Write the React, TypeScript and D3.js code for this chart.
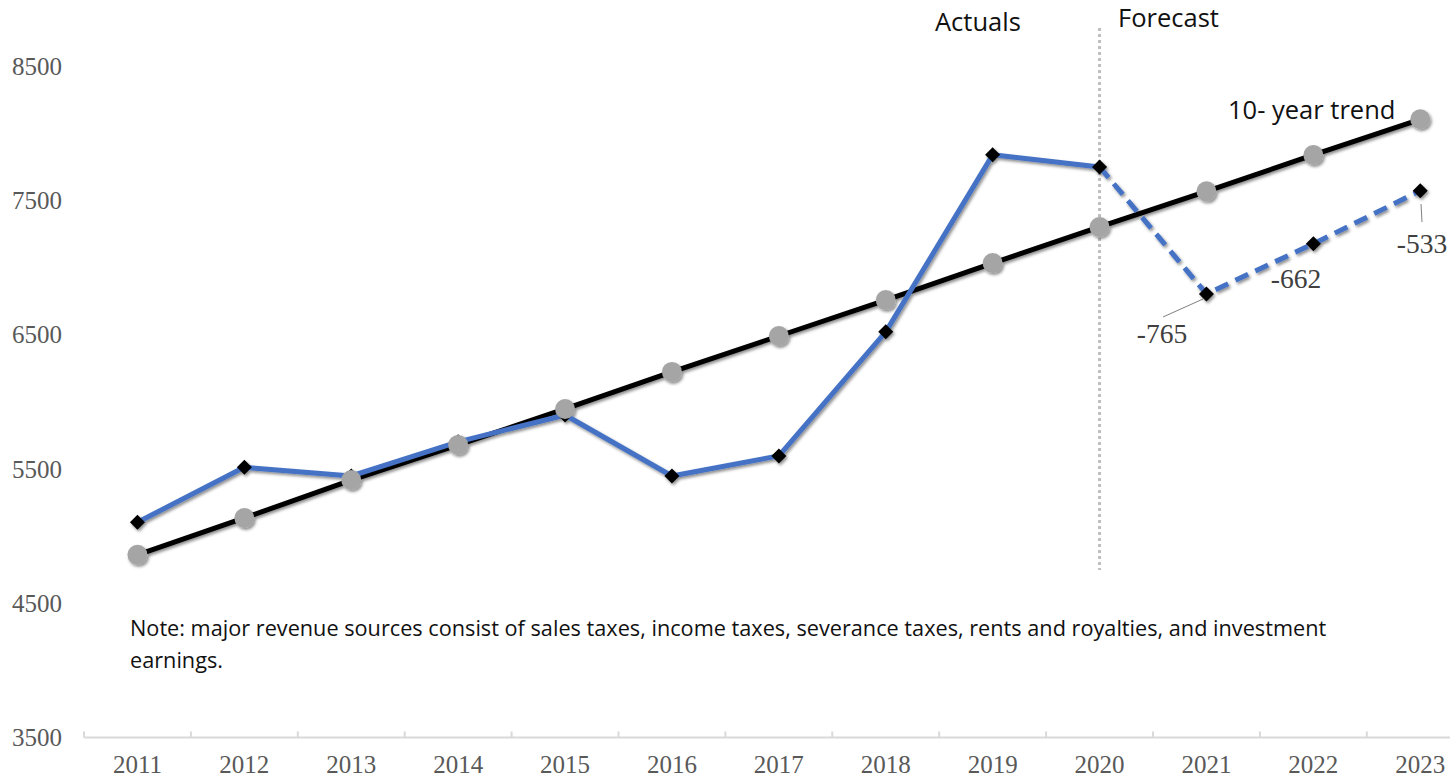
import React from "react";
import * as d3 from "d3";

const years = ["2011","2012","2013","2014","2015","2016","2017","2018","2019","2020","2021","2022","2023"];
const actuals = [5105, 5515, 5450, 5705, 5905, 5450, 5600, 6525, 7845, 7755];
const forecast = [7755, 6808, 7182, 7577]; // 2020..2023
const forecastYears = ["2020","2021","2022","2023"];
const trend = [4862, 5137, 5420, 5682, 5950, 6226, 6494, 6762, 7038, 7307, 7573, 7844, 8110];
const yTicks = [3500, 4500, 5500, 6500, 7500, 8500];
const gapLabels = [
  { year: "2021", text: "-765" },
  { year: "2022", text: "-662" },
  { year: "2023", text: "-533" },
];

const W = 1450, H = 778;
const serif = "'Liberation Serif', 'DejaVu Serif', serif";
const sans = "'Open Sans', 'Noto Sans', sans-serif";

export default function App() {
  const x = d3.scaleBand<string>().domain(years).range([84, 84 + 106.9 * 13]).padding(0);
  const cx = (yr: string) => (x(yr) as number) + x.bandwidth() / 2;
  const y = d3.scaleLinear().domain([3500, 8500]).range([737.5, 67]);

  const line = d3.line<[string, number]>().x(d => cx(d[0])).y(d => y(d[1]));
  const actualPts: [string, number][] = actuals.map((v, i) => [years[i], v]);
  const forecastPts: [string, number][] = forecast.map((v, i) => [forecastYears[i], v]);
  const trendPts: [string, number][] = trend.map((v, i) => [years[i], v]);
  const diamonds = [...actualPts, ...forecastPts.slice(1)];

  const diamond = (px: number, py: number, r: number) =>
    `M${px},${py - r}L${px + r},${py}L${px},${py + r}L${px - r},${py}Z`;

  const axisY = y(3500);
  const vx = cx("2020");

  return (
    <svg width={W} height={H} style={{ position: "absolute", left: 0, top: 0, background: "#fff" }}>
      <defs>
        <filter id="sh" x="-50%" y="-50%" width="200%" height="200%">
          <feDropShadow dx="1.5" dy="2" stdDeviation="1.5" floodColor="#000" floodOpacity="0.45" />
        </filter>
      </defs>
      {/* y labels */}
      {yTicks.map(t => (
        <text key={t} x={12} y={y(t)} dy="0.33em" fontFamily={serif} fontSize={25} fill="#595959">{t}</text>
      ))}
      {/* x axis */}
      <line x1={84} x2={84 + 106.9 * 13} y1={axisY} y2={axisY} stroke="#D9D9D9" strokeWidth={2} />
      {years.map(yr => (
        <line key={"t" + yr} x1={x(yr)} x2={x(yr)} y1={axisY} y2={axisY - 6} stroke="#D9D9D9" strokeWidth={2} />
      ))}
      {years.map(yr => (
        <text key={"l" + yr} x={cx(yr)} y={773} textAnchor="middle" fontFamily={serif} fontSize={25} fill="#595959">{yr}</text>
      ))}
      {/* vertical separator */}
      <line x1={vx} x2={vx} y1={28} y2={570} stroke="#BFBFBF" strokeWidth={3} strokeDasharray="3,3" />
      <text x={935} y={31} fontFamily={sans} fontSize={25.5} fill="#111">Actuals</text>
      <text x={1118} y={27} fontFamily={sans} fontSize={25.5} fill="#111">Forecast</text>
      <text x={1228} y={119} fontFamily={sans} fontSize={25.5} fill="#111">10- year trend</text>
      {/* note */}
      <text x={130} y={636} fontFamily={sans} fontSize={21.7} fill="#111">Note: major revenue sources consist of sales taxes, income taxes, severance taxes, rents and royalties, and investment</text>
      <text x={130} y={668} fontFamily={sans} fontSize={21.7} fill="#111">earnings.</text>
      {/* lines and markers */}
      <g filter="url(#sh)">
        <path d={line(trendPts) || ""} fill="none" stroke="#000" strokeWidth={5} />
        <path d={line(actualPts) || ""} fill="none" stroke="#4472C4" strokeWidth={5} strokeLinejoin="round" />
        <path d={line(forecastPts) || ""} fill="none" stroke="#4472C4" strokeWidth={5} strokeDasharray="14,8" />
        {diamonds.map(d => (
          <path key={"d" + d[0]} d={diamond(cx(d[0]), y(d[1]), 7.5)} fill="#000" />
        ))}
        {trendPts.map(d => (
          <circle key={"c" + d[0]} cx={cx(d[0])} cy={y(d[1])} r={10} fill="#A5A5A5" />
        ))}
      </g>
      {/* gap labels */}
      <line x1={1163} y1={317} x2={1203} y2={299} stroke="#7F7F7F" strokeWidth={1} />
      <line x1={1422} y1={222} x2={1421} y2={204} stroke="#7F7F7F" strokeWidth={1} />
      {gapLabels.map((g, i) => {
        const pos = [[1162, 343], [1296, 288], [1422, 253]][i];
        return (
          <text key={g.year} x={pos[0]} y={pos[1]} textAnchor="middle" fontFamily={serif} fontSize={27.5} fill="#404040">{g.text}</text>
        );
      })}
    </svg>
  );
}
